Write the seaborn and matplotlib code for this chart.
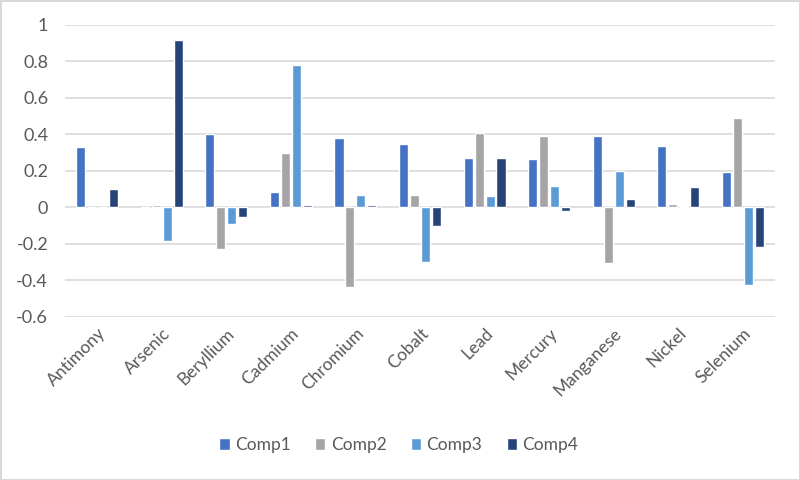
import pandas as pd
import matplotlib
matplotlib.use('Agg')
import matplotlib.pyplot as plt
import seaborn as sns

# ─── Données ───
elements = ['Antimony', 'Arsenic', 'Beryllium', 'Cadmium', 'Chromium', 'Cobalt',
            'Lead', 'Mercury', 'Manganese', 'Nickel', 'Selenium']
comp1 = [0.33, 0.0, 0.40, 0.085, 0.38, 0.35, 0.27, 0.265, 0.39, 0.335, 0.195]
comp2 = [0.0, 0.015, -0.23, 0.30, -0.435, 0.07, 0.41, 0.39, -0.305, 0.02, 0.49]
comp3 = [0.0, -0.185, -0.09, 0.78, 0.07, -0.30, 0.065, 0.115, 0.20, 0.01, -0.425]
comp4 = [0.10, 0.92, -0.055, 0.015, 0.015, -0.10, 0.27, -0.02, 0.045, 0.11, -0.22]
series_names = ['Comp1', 'Comp2', 'Comp3', 'Comp4']
y_ticks = [-0.6, -0.4, -0.2, 0, 0.2, 0.4, 0.6, 0.8, 1]
y_tick_labels = ['-0.6', '-0.4', '-0.2', '0', '0.2', '0.4', '0.6', '0.8', '1']

palette = ['#4472C4', '#A5A5A5', '#5B9BD5', '#264478']
txt_color = '#595959'

df = pd.DataFrame({'Element': elements * 4,
                   'Composante': [s for s in series_names for _ in elements],
                   'Valeur': comp1 + comp2 + comp3 + comp4})

sns.set_style('white')
plt.rcParams['font.family'] = ['Lato', 'DejaVu Sans']

fig = plt.figure(figsize=(8, 4.8), dpi=100)
fig.patch.set_edgecolor('#d9d9d9')
fig.patch.set_linewidth(2)
ax = fig.add_axes([0.081, 0.340, 0.888, 0.608])

sns.barplot(data=df, x='Element', y='Valeur', hue='Composante',
            palette=palette, width=0.68, gap=0.17, ax=ax,
            errorbar=None, saturation=1, zorder=3)

ax.set_ylim(-0.6, 1)
ax.set_yticks(y_ticks)
ax.set_yticklabels(y_tick_labels)
ax.yaxis.grid(True, color='#d9d9d9', linewidth=1.2, zorder=0)
ax.set_axisbelow(True)
for s in ax.spines.values():
    s.set_visible(False)
ax.set_xlabel('')
ax.set_ylabel('')
ax.tick_params(axis='y', length=0, labelsize=13, labelcolor=txt_color, pad=12)
ax.tick_params(axis='x', length=0, labelsize=12.5, labelcolor=txt_color, pad=6)
plt.setp(ax.get_xticklabels(), rotation=45, ha='right', rotation_mode='anchor')

# ─── Légende en bas ───
ax.legend(loc='upper center', bbox_to_anchor=(0.47, -0.36), ncol=4, frameon=False,
          fontsize=12.5, labelcolor=txt_color, handlelength=0.6, handleheight=0.7,
          handletextpad=0.3, columnspacing=1.4)

plt.savefig('out.png', dpi=100, edgecolor=fig.get_edgecolor())
